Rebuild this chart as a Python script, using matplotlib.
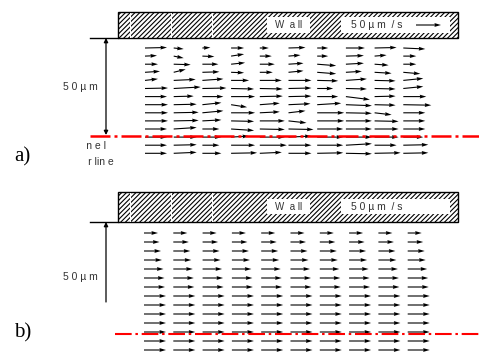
import numpy as np
import matplotlib.pyplot as plt
from matplotlib.patches import Rectangle

# velocities in um/s, rows from the wall down past the centerline, 10 columns
# a) measured field (noisy)
u_a = np.array([
    [44, 20, 16, 26, 18, 34, 22, 38, 44, 44],
    [24, 20, 24, 26, 24, 24, 22, 36, 24, 26],
    [26, 34, 32, 28, 30, 30, 38, 36, 28, 26],
    [30, 24, 34, 26, 26, 30, 38, 32, 34, 34],
    [26, 44, 42, 36, 44, 46, 42, 42, 42, 40],
    [46, 54, 48, 46, 46, 46, 32, 42, 42, 40],
    [44, 40, 42, 48, 46, 46, 42, 48, 42, 46],
    [46, 46, 38, 32, 40, 44, 48, 52, 42, 56],
    [46, 50, 42, 48, 40, 34, 54, 52, 34, 44],
    [46, 50, 38, 46, 50, 36, 54, 52, 48, 44],
    [44, 46, 34, 46, 50, 50, 52, 52, 48, 44],
    [44, 46, 38, 36, 50, 46, 52, 52, 48, 40],
    [44, 46, 34, 48, 54, 46, 52, 52, 44, 50],
    [44, 46, 38, 52, 44, 46, 52, 52, 52, 50],
])
v_a = np.array([
    [1, -2, 1, 0, 0, 1, 0, 0, 1, -2],
    [1, -4, -1, 4, 0, 2, 0, 1, 2, 0],
    [0, -1, 0, 3, 0, 2, -3, 2, -2, 0],
    [2, 6, 1, -1, 0, 3, -3, 2, -2, -3],
    [3, 2, 3, 0, 0, 0, -1, 3, -1, 4],
    [1, 3, 1, -1, -1, 1, 0, -1, -1, 4],
    [0, 1, 0, 0, 1, 1, 0, -6, 1, 0],
    [0, 1, 4, -5, 3, 2, 3, -2, -1, -1],
    [0, 1, 4, 0, 2, 4, 0, -1, -4, 0],
    [0, 1, 2, -1, 0, -4, 0, 0, -1, 0],
    [0, 3, 0, -3, -1, -1, 0, 0, 0, 0],
    [0, 0, 0, 2, 0, 2, 0, 0, 0, 0],
    [0, 1, 0, 0, 0, 0, 0, 3, 0, 1],
    [0, 2, 0, 1, 2, 0, 1, -1, 1, 1],
])
# b) fitted profile, same in every column
u_b = np.array([28, 31, 34, 36, 39, 41, 42, 44, 44, 44, 44, 44, 44, 44])
ref_speed = 50

plt.rcParams['hatch.linewidth'] = 0.8

fig = plt.figure(figsize=(4.79, 3.54), dpi=100)
ax = fig.add_axes([0, 0, 1, 1])
ax.set_xlim(0, 479)
ax.set_ylim(354, 0)
ax.axis('off')

font = 'Liberation Sans'
tcol = '#333333'
qkw = dict(angles='xy', scale_units='xy', scale=2, units='dots', width=1.1,
           headwidth=3.5, headlength=6, headaxislength=5.5, color='black', zorder=3)


def wall(y0, h, ybox, hbox):
    ax.add_patch(Rectangle((118, y0), 340, h, facecolor='white', edgecolor='black',
                           hatch='///////', lw=1, zorder=2))
    for xs in [130, 171, 212]:
        ax.plot([xs, xs], [y0 + 1, y0 + h - 1], color='white', lw=0.7, zorder=2.5)
    ax.add_patch(Rectangle((267, ybox), 43, hbox, facecolor='white', edgecolor='none', zorder=2.5))
    ax.add_patch(Rectangle((341, ybox), 109, hbox, facecolor='white', edgecolor='none', zorder=2.5))
    yt = ybox + hbox / 2
    ax.text(289, yt, 'W  a ll', ha='center', va='center', fontsize=7, family=font,
            color=tcol, zorder=4)
    ax.text(351, yt, '5 0 µ m  / s', ha='left', va='center', fontsize=7.5, family=font,
            color=tcol, zorder=4)
    ax.plot([90, 118], [y0 + h, y0 + h], color='black', lw=1)


# ---- panel a ----
wall(12, 26, 17, 16)
xa = 145 + 28.7 * np.arange(10)
ya = 48 + 8.1 * np.arange(14)
Xa, Ya = np.meshgrid(xa, ya)
ax.quiver(Xa, Ya, u_a, -v_a, **qkw)
ax.quiver([416], [25], [ref_speed], [0], **qkw)

ax.annotate('', xy=(106, 38), xytext=(106, 135),
            arrowprops=dict(arrowstyle='<|-|>', lw=0.9, color='black',
                            mutation_scale=6, shrinkA=0, shrinkB=0))
ax.text(63, 87, '5 0 µ m', ha='left', va='center', fontsize=7.5, family=font, color=tcol)
ax.plot([90, 479], [135.5, 135.5], color='red', lw=1.8,
        ls=(0, (8, 1.6, 1.2, 1.6)), zorder=5)

# "Channel centerline" label, cut off on the left as in the original
clip = Rectangle((86, 0), 400, 354, transform=ax.transData)
for txt, xr, yy in [('C h a n n e l', 106, 146), ('c e n te r lin e', 114, 162)]:
    t = ax.text(xr, yy, txt, ha='right', va='center', fontsize=7.5, family=font,
                color=tcol)
    t.set_clip_on(True)
    t.set_clip_path(clip)
ax.text(14, 157, 'a)', ha='left', va='center', fontsize=15, family='Liberation Serif')

# ---- panel b ----
wall(192, 30, 199, 15)
xb = 144 + 29.3 * np.arange(10)
yb = 233 + 9.0 * np.arange(14)
Xb, Yb = np.meshgrid(xb, yb)
Ub = np.repeat(u_b[:, None], 10, axis=1)
ax.quiver(Xb, Yb, Ub, np.zeros_like(Ub), **qkw)

ax.annotate('', xy=(106, 222), xytext=(106, 302),
            arrowprops=dict(arrowstyle='-|>', lw=0.9, color='black',
                            mutation_scale=6, shrinkA=0, shrinkB=0))
ax.text(63, 277, '5 0 µ m', ha='left', va='center', fontsize=7.5, family=font, color=tcol)
ax.plot([115, 479], [333.5, 333.5], color='red', lw=1.5,
        ls=(0, (8, 1.8, 1.2, 1.8)), zorder=5)
ax.text(14, 333, 'b)', ha='left', va='center', fontsize=15, family='Liberation Serif')

fig.savefig('out.png', dpi=100)
